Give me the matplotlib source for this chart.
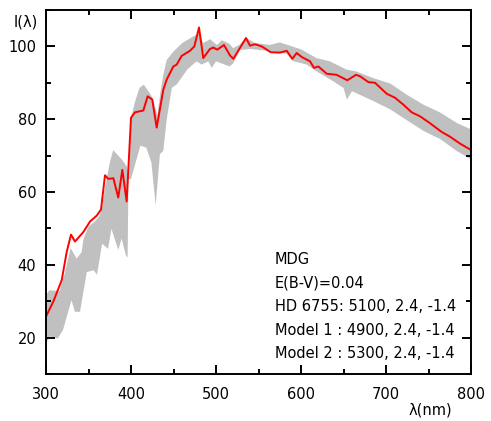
import numpy as np
import matplotlib
matplotlib.use("Agg")
import matplotlib.pyplot as plt
from matplotlib.ticker import MultipleLocator

plt.rcParams['font.family'] = ['DejaVu Sans']

# observed spectrum (red)
wl = [300, 308.6, 318.5, 324.3, 329.4, 334.1, 343.9, 351.8, 359.6, 364.7,
      369.4, 373.3, 379.2, 385.0, 389.8, 394.9, 400.0, 404.7, 414.5, 419.6,
      425.0, 430.2, 438.0, 442.0, 449.8, 453.7, 459.6, 469.4, 474.5, 480.0,
      485.0, 492.9, 496.8, 501.5, 509.4, 516.5, 520.4, 535.3, 540.0, 545.9,
      553.8, 564.4, 575.3, 583.2, 589.8, 594.9, 600.8, 610.6, 615.3, 620.4,
      630.2, 641.8, 654.5, 664.7, 669.4, 679.2, 687.1, 700.8, 710.6, 720.4,
      730.2, 740.0, 751.8, 765.5, 775.3, 787.1, 798.8, 800]
flux = [25.8, 29.9, 35.8, 43.5, 48.3, 46.4, 49.0, 51.9, 53.5, 55.2,
        64.6, 63.6, 63.8, 58.5, 66.1, 57.4, 80.4, 81.9, 82.4, 86.3,
        85.4, 77.7, 88.1, 90.9, 94.5, 95.0, 97.4, 98.8, 100.0, 105.2,
        96.8, 99.3, 99.7, 99.1, 100.4, 97.5, 96.6, 102.3, 100.2, 100.6,
        100.0, 98.4, 98.3, 98.8, 96.6, 98.2, 97.1, 95.9, 94.1, 94.5,
        92.5, 92.2, 90.7, 92.2, 91.8, 90.2, 90.0, 87.0, 85.9, 84.0,
        81.9, 80.8, 78.9, 76.5, 75.2, 73.3, 71.7, 71.5]

# model envelope (grey band): upper and lower edges
up_wl = [300, 304, 316, 322, 329, 336, 342, 344, 350, 358, 363, 366, 370,
         375, 379, 389, 395, 398, 400, 405, 410, 415, 422, 426, 431, 435,
         438, 442, 450, 460, 473, 480, 485, 493, 501, 507, 516, 520, 528,
         535, 545, 563, 575, 587, 601, 618, 634, 654, 664, 685, 705, 724,
         744, 764, 783, 800]
up_fl = [31.7, 33.0, 32.8, 37.6, 44.6, 41.7, 43.5, 47.0, 50.5, 52.0, 53.5, 56.0, 62.0,
         68.0, 71.5, 69.0, 67.0, 64.0, 80.5, 85.0, 88.6, 89.5, 87.2, 85.5, 81.0, 88.0,
         92.2, 96.3, 98.6, 100.9, 102.7, 103.5, 100.9, 102.0, 100.4, 101.7, 100.7, 99.5, 100.5,
         102.5, 101.0, 100.4, 101.1, 100.2, 99.1, 96.8, 95.9, 93.6, 93.2, 91.3, 89.8, 86.8,
         84.0, 81.8, 79.0, 77.2]
lo_wl = [300, 305, 314, 320, 330, 334, 340, 348, 356, 360, 366, 373, 377,
         385, 389, 394, 396, 397, 400, 411, 418, 424, 429, 434, 438, 442,
         448, 454, 466, 477, 483, 491, 495, 500, 516, 520, 528, 540, 567,
         583, 590, 607, 618, 638, 650, 654, 660, 685, 705, 724, 744, 764,
         783, 800]
lo_fl = [18.5, 20.3, 19.8, 22.1, 30.3, 27.1, 27.1, 38.0, 38.5, 37.3, 45.8, 44.4, 49.9,
         44.1, 47.2, 42.6, 42.0, 63.6, 63.6, 72.7, 72.2, 68.1, 56.3, 70.4, 71.3, 80.0,
         88.6, 89.6, 93.6, 95.9, 95.0, 95.9, 94.1, 95.9, 94.5, 95.3, 99.0, 99.3, 98.6,
         98.0, 96.0, 95.0, 93.2, 90.4, 88.6, 85.4, 87.7, 85.0, 82.7, 79.8, 76.8, 74.5,
         71.3, 69.0]

info = ["MDG", "E(B-V)=0.04", "HD 6755: 5100, 2.4, -1.4",
        "Model 1 : 4900, 2.4, -1.4", "Model 2 : 5300, 2.4, -1.4"]

fig = plt.figure(figsize=(4.91, 4.21), dpi=100)
ax = fig.add_axes([0.0937, 0.1116, 0.8656, 0.8646])

ax.fill(up_wl + lo_wl[::-1], up_fl + lo_fl[::-1], color='#c0c0c0', lw=0)
ax.plot(wl, flux, color='#ff0000', lw=1.4)

ax.set_xlim(300, 800)
ax.set_ylim(10, 110)
ax.xaxis.set_major_locator(MultipleLocator(100))
ax.xaxis.set_minor_locator(MultipleLocator(50))
ax.yaxis.set_major_locator(MultipleLocator(20))
ax.yaxis.set_minor_locator(MultipleLocator(10))
ax.tick_params(which='both', direction='in', top=True, right=True,
               width=1.4, labelsize=10.5)
ax.tick_params(which='major', length=6.5)
ax.tick_params(which='minor', length=3.5)
ax.tick_params(axis='y', pad=7)
ax.tick_params(axis='x', pad=9)
for s in ax.spines.values():
    s.set_linewidth(1.4)

ax.text(-0.047, 0.967, "I(λ)", transform=ax.transAxes, ha='center',
        va='center', fontsize=10.5)
ax.text(0.9035, -0.099, "λ(nm)", transform=ax.transAxes, ha='center',
        va='center', fontsize=10.5)

for i, line in enumerate(info):
    ax.text(0.539, 0.302 - i * 0.0645, line, transform=ax.transAxes,
            ha='left', va='baseline', fontsize=10.5)

fig.savefig("out.png", dpi=100)
